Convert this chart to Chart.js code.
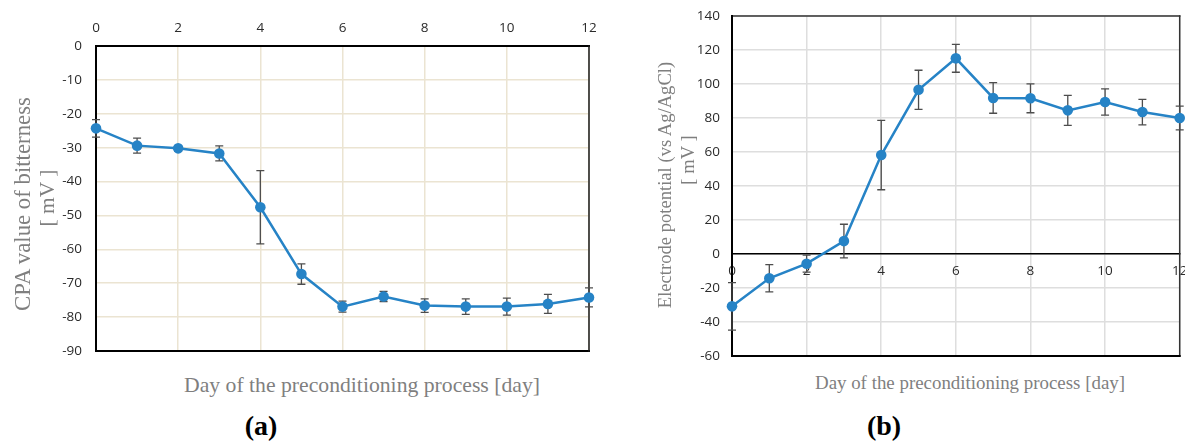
<!DOCTYPE html>
<html>
<head>
<meta charset="utf-8">
<script src="https://cdn.jsdelivr.net/npm/chart.js@4.4.0/dist/chart.umd.min.js"></script>
<style>
html, body { margin: 0; padding: 0; background: #fff; }
body { width: 1185px; height: 441px; overflow: hidden; position: relative; }
canvas { position: absolute; }
.t { position: absolute; white-space: nowrap; font-family: "Liberation Serif", "Times New Roman", serif; color: #7f7f7f; line-height: 1; transform: translate(-50%, -50%); }
.r { transform: translate(-50%, -50%) rotate(-90deg); }
.cap { color: #000; font-weight: bold; }
</style>
</head>
<body>
<canvas id="chartA" width="610" height="360" style="left:0;top:0;width:610px;height:360px"></canvas>
<canvas id="chartB" width="565" height="370" style="left:620px;top:0;width:565px;height:370px"></canvas>

<div class="t r" style="left:23px;top:204px;font-size:22.8px">CPA value of bitterness</div>
<div class="t r" style="left:48px;top:198px;font-size:21.5px">[ mV ]</div>
<div class="t" style="left:362px;top:386px;font-size:21.7px">Day of the preconditioning process [day]</div>
<div class="t cap" style="left:261px;top:426px;font-size:28px">(a)</div>

<div class="t r" style="left:665px;top:185px;font-size:18.6px">Electrode potential (vs Ag/AgCl)</div>
<div class="t r" style="left:688px;top:160px;font-size:18.6px">[ mV ]</div>
<div class="t" style="left:970px;top:383px;font-size:18.9px">Day of the preconditioning process [day]</div>
<div class="t cap" style="left:884px;top:426px;font-size:28px">(b)</div>

<script>
// ---- data ----
const days = [0, 1, 2, 3, 4, 5, 6, 7, 8, 9, 10, 11, 12];
const dayTicks = [0, 2, 4, 6, 8, 10, 12];

const cpaMean = [-24.3, -29.4, -30.2, -31.7, -47.6, -67.3, -76.9, -73.9, -76.6, -76.9, -76.9, -76.1, -74.2];
const cpaErr  = [2.6, 2.2, 0.8, 2.2, 10.8, 3.0, 1.6, 1.5, 2.0, 2.3, 2.5, 2.8, 2.8];
const cpaTicks = [0, -10, -20, -30, -40, -50, -60, -70, -80, -90];

const potMean = [-30.8, -14.3, -5.7, 7.6, 58.2, 96.6, 115.1, 91.8, 91.6, 84.5, 89.4, 83.5, 80.0];
const potErr  = [14.0, 8.0, 5.0, 9.9, 20.4, 11.5, 8.2, 9.0, 8.5, 8.8, 7.7, 7.5, 7.0];
const potTicks = [140, 120, 100, 80, 60, 40, 20, 0, -20, -40, -60];

// ---- plugin: frame + error bars ----
const frameAndErrors = {
  id: 'frameAndErrors',
  beforeDatasetsDraw(chart, args, o) {
    const { ctx, chartArea: a, scales: { x, y } } = chart;
    ctx.save();
    ctx.lineCap = 'square';
    (o.sides || []).forEach(s => {
      ctx.strokeStyle = s.color;
      ctx.lineWidth = s.width;
      ctx.beginPath();
      if (s.side === 'top') { ctx.moveTo(a.left, a.top); ctx.lineTo(a.right, a.top); }
      if (s.side === 'bottom') { ctx.moveTo(a.left, a.bottom); ctx.lineTo(a.right, a.bottom); }
      if (s.side === 'left') { ctx.moveTo(a.left, a.top); ctx.lineTo(a.left, a.bottom); }
      if (s.side === 'right') { ctx.moveTo(a.right, a.top); ctx.lineTo(a.right, a.bottom); }
      ctx.stroke();
    });
    ctx.lineCap = 'butt';
    ctx.strokeStyle = o.errColor;
    ctx.lineWidth = o.errWidth;
    const pts = chart.data.datasets[0].data;
    pts.forEach((p, i) => {
      const e = o.errors[i];
      const px = x.getPixelForValue(p.x);
      const t = y.getPixelForValue(p.y + e);
      const b = y.getPixelForValue(p.y - e);
      ctx.beginPath();
      ctx.moveTo(px, t); ctx.lineTo(px, b);
      ctx.moveTo(px - o.cap, t); ctx.lineTo(px + o.cap, t);
      ctx.moveTo(px - o.cap, b); ctx.lineTo(px + o.cap, b);
      ctx.stroke();
    });
    ctx.restore();
  }
};

const tickFont = { family: 'Open Sans', size: 13.5 };
const tickColor = '#2b2b2b';
const lineColor = '#2683c6';

function dataset(values) {
  return {
    data: days.map((d, i) => ({ x: d, y: values[i] })),
    borderColor: lineColor,
    backgroundColor: lineColor,
    pointBackgroundColor: lineColor,
    borderWidth: 2.5,
    pointRadius: 5.3,
    pointBorderWidth: 0,
    pointHoverRadius: 5.3,
    tension: 0,
    clip: false
  };
}

// ---- chart (a) ----
new Chart(document.getElementById('chartA'), {
  type: 'line',
  data: { datasets: [dataset(cpaMean)] },
  plugins: [frameAndErrors],
  options: {
    responsive: false,
    animation: false,
    devicePixelRatio: 1,
    layout: { padding: { left: 0, top: 0, right: 21, bottom: 9 } },
    plugins: {
      legend: { display: false },
      tooltip: { enabled: false },
      frameAndErrors: {
        errors: cpaErr, errColor: '#4d4d4d', errWidth: 1.3, cap: 4,
        sides: [
          { side: 'top', width: 2, color: '#000' },
          { side: 'left', width: 2, color: '#000' },
          { side: 'bottom', width: 2, color: '#000' },
          { side: 'right', width: 1.5, color: '#1a1a1a' }
        ]
      }
    },
    scales: {
      x: {
        type: 'linear', position: 'top', min: 0, max: 12,
        afterBuildTicks: s => { s.ticks = dayTicks.map(v => ({ value: v })); },
        afterFit: s => { s.height = 46; s.paddingLeft = 0; s.paddingRight = 0; },
        grid: { color: '#ebe4d2', lineWidth: 1.5, drawTicks: false },
        border: { display: false },
        ticks: { padding: 10, font: tickFont, color: tickColor, maxRotation: 0 }
      },
      y: {
        type: 'linear', min: -90, max: 0,
        afterBuildTicks: s => { s.ticks = cpaTicks.map(v => ({ value: v })); },
        afterFit: s => { s.width = 96; s.paddingTop = 0; s.paddingBottom = 0; },
        grid: { color: '#ebe4d2', lineWidth: 1.5, drawTicks: false },
        border: { display: false },
        ticks: { padding: 14, font: tickFont, color: tickColor }
      }
    }
  }
});

// ---- chart (b) ----
new Chart(document.getElementById('chartB'), {
  type: 'line',
  data: { datasets: [dataset(potMean)] },
  plugins: [frameAndErrors],
  options: {
    responsive: false,
    animation: false,
    devicePixelRatio: 1,
    layout: { padding: { left: 0, top: 16, right: 3, bottom: 14 } },
    plugins: {
      legend: { display: false },
      tooltip: { enabled: false },
      frameAndErrors: {
        errors: potErr, errColor: '#4d4d4d', errWidth: 1.3, cap: 4,
        sides: [
          { side: 'top', width: 1.5, color: '#333333' },
          { side: 'right', width: 1.5, color: '#333333' },
          { side: 'left', width: 2, color: '#000' },
          { side: 'bottom', width: 2, color: '#000' }
        ]
      }
    },
    scales: {
      x: {
        type: 'linear', position: { y: 0 }, min: 0, max: 12,
        afterBuildTicks: s => { s.ticks = dayTicks.map(v => ({ value: v })); },
        afterFit: s => { s.paddingLeft = 0; s.paddingRight = 0; },
        grid: { color: '#dedede', lineWidth: 1.5, drawTicks: false },
        border: { display: true, color: '#000', width: 1.5 },
        ticks: { padding: 9, font: tickFont, color: tickColor, maxRotation: 0 }
      },
      y: {
        type: 'linear', min: -60, max: 140,
        afterBuildTicks: s => { s.ticks = potTicks.map(v => ({ value: v })); },
        afterFit: s => { s.width = 112; s.paddingTop = 0; s.paddingBottom = 0; },
        grid: { color: '#dedede', lineWidth: 1.5, drawTicks: false },
        border: { display: false },
        ticks: { padding: 12, font: tickFont, color: tickColor }
      }
    }
  }
});
</script>
</body>
</html>
